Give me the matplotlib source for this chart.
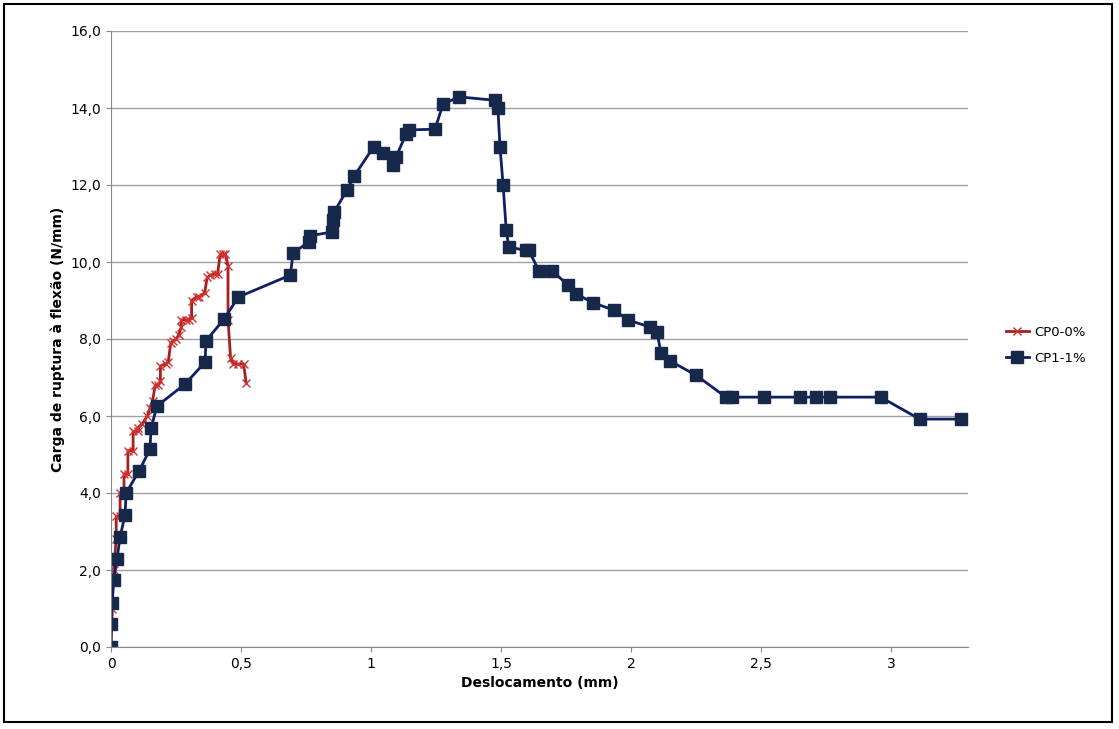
import matplotlib
matplotlib.use("Agg")
import matplotlib.pyplot as plt
from matplotlib.ticker import FuncFormatter

cp0_x = [0, 0.005, 0.01, 0.02, 0.02, 0.035, 0.035, 0.05, 0.05, 0.065, 0.065, 0.085, 0.085, 0.105, 0.105,
         0.12, 0.14, 0.15, 0.16, 0.17, 0.18, 0.19, 0.19, 0.21, 0.22, 0.23, 0.24, 0.25, 0.26, 0.27, 0.27,
         0.29, 0.30, 0.31, 0.31, 0.33, 0.34, 0.36, 0.37, 0.38, 0.40, 0.41, 0.42, 0.43, 0.44, 0.45,
         0.45, 0.46, 0.47, 0.49, 0.51, 0.52]
cp0_y = [0, 1.0, 2.0, 2.8, 3.4, 3.4, 4.0, 4.0, 4.5, 4.5, 5.1, 5.1, 5.6, 5.6, 5.7,
         5.8, 6.0, 6.2, 6.4, 6.8, 6.8, 6.9, 7.3, 7.35, 7.4, 7.9, 7.95, 8.0, 8.1, 8.3, 8.5,
         8.5, 8.5, 8.55, 9.0, 9.1, 9.1, 9.2, 9.6, 9.65, 9.7, 9.7, 10.2, 10.2, 10.2, 9.9,
         8.5, 7.5, 7.35, 7.35, 7.35, 6.85]

cp1_x = [0, 0.0, 0.004, 0.01, 0.023, 0.035, 0.054, 0.058, 0.108, 0.15, 0.154, 0.177, 0.285, 0.362,
         0.365, 0.435, 0.49, 0.69, 0.70, 0.76, 0.765, 0.85, 0.854, 0.858, 0.908, 0.935, 1.01, 1.045,
         1.085, 1.096, 1.135, 1.146, 1.246, 1.277, 1.338, 1.477, 1.488, 1.496, 1.508, 1.52, 1.53,
         1.596, 1.607, 1.646, 1.696, 1.758, 1.79, 1.854, 1.935, 1.99, 2.073, 2.10, 2.115, 2.15,
         2.25, 2.365, 2.39, 2.51, 2.65, 2.71, 2.765, 2.96, 3.11, 3.27]
cp1_y = [0, 0.6, 1.14, 1.74, 2.29, 2.86, 3.43, 4.0, 4.57, 5.14, 5.69, 6.26, 6.83, 7.4,
         7.95, 8.52, 9.09, 9.66, 10.23, 10.52, 10.68, 10.78, 11.09, 11.3, 11.87, 12.23, 12.99, 12.83,
         12.52, 12.73, 13.32, 13.43, 13.45, 14.1, 14.29, 14.2, 14.0, 13.0, 12.0, 10.83, 10.39,
         10.3, 10.3, 9.77, 9.77, 9.4, 9.17, 8.94, 8.75, 8.49, 8.31, 8.18, 7.64, 7.43,
         7.06, 6.49, 6.49, 6.49, 6.49, 6.49, 6.49, 6.49, 5.92, 5.92]

fig = plt.figure(figsize=(11.19, 7.29), dpi=100)
ax = fig.add_axes([111/1119, 1-647/729, (968-111)/1119, (647-31)/729])
ax.plot(cp0_x, cp0_y, color="#a52020", marker="x", markersize=6, lw=2, mec="#d03030", label="CP0-0%")
ax.plot(cp1_x, cp1_y, color="#0f1f66", marker="s", markersize=8, mfc="#16294a", mec="#16294a", lw=2, label="CP1-1%")
ax.set_xlim(0, 3.296)
ax.set_ylim(0, 16)
ax.set_yticks([0, 2, 4, 6, 8, 10, 12, 14, 16])
ax.set_xticks([0, 0.5, 1, 1.5, 2, 2.5, 3])
ax.yaxis.set_major_formatter(FuncFormatter(lambda v, p: f"{v:.1f}".replace(".", ",")))
ax.xaxis.set_major_formatter(FuncFormatter(lambda v, p: f"{v:g}".replace(".", ",")))
ax.grid(axis="y", color="#a0a0a0", lw=1)
ax.set_axisbelow(True)
for s in ["top", "right"]:
    ax.spines[s].set_visible(False)
ax.spines["left"].set_color("#888888")
ax.spines["bottom"].set_color("#888888")
ax.tick_params(labelsize=10, color="#888888", direction="out")
ax.set_xlabel("Deslocamento (mm)", fontsize=10, fontweight="bold")
ax.set_ylabel("Carga de ruptura à flexão (N/mm)", fontsize=10, fontweight="bold")
ax.legend(loc="center left", bbox_to_anchor=(1.03, 0.49), frameon=False, fontsize=9.5,
          handlelength=1.8, handletextpad=0.4, labelspacing=1.0)
fig.patches.append(plt.Rectangle((0.004, 0.01), 0.99, 0.985, transform=fig.transFigure,
                                 fill=False, ec="black", lw=1.5))
fig.savefig("out.png", dpi=100)
